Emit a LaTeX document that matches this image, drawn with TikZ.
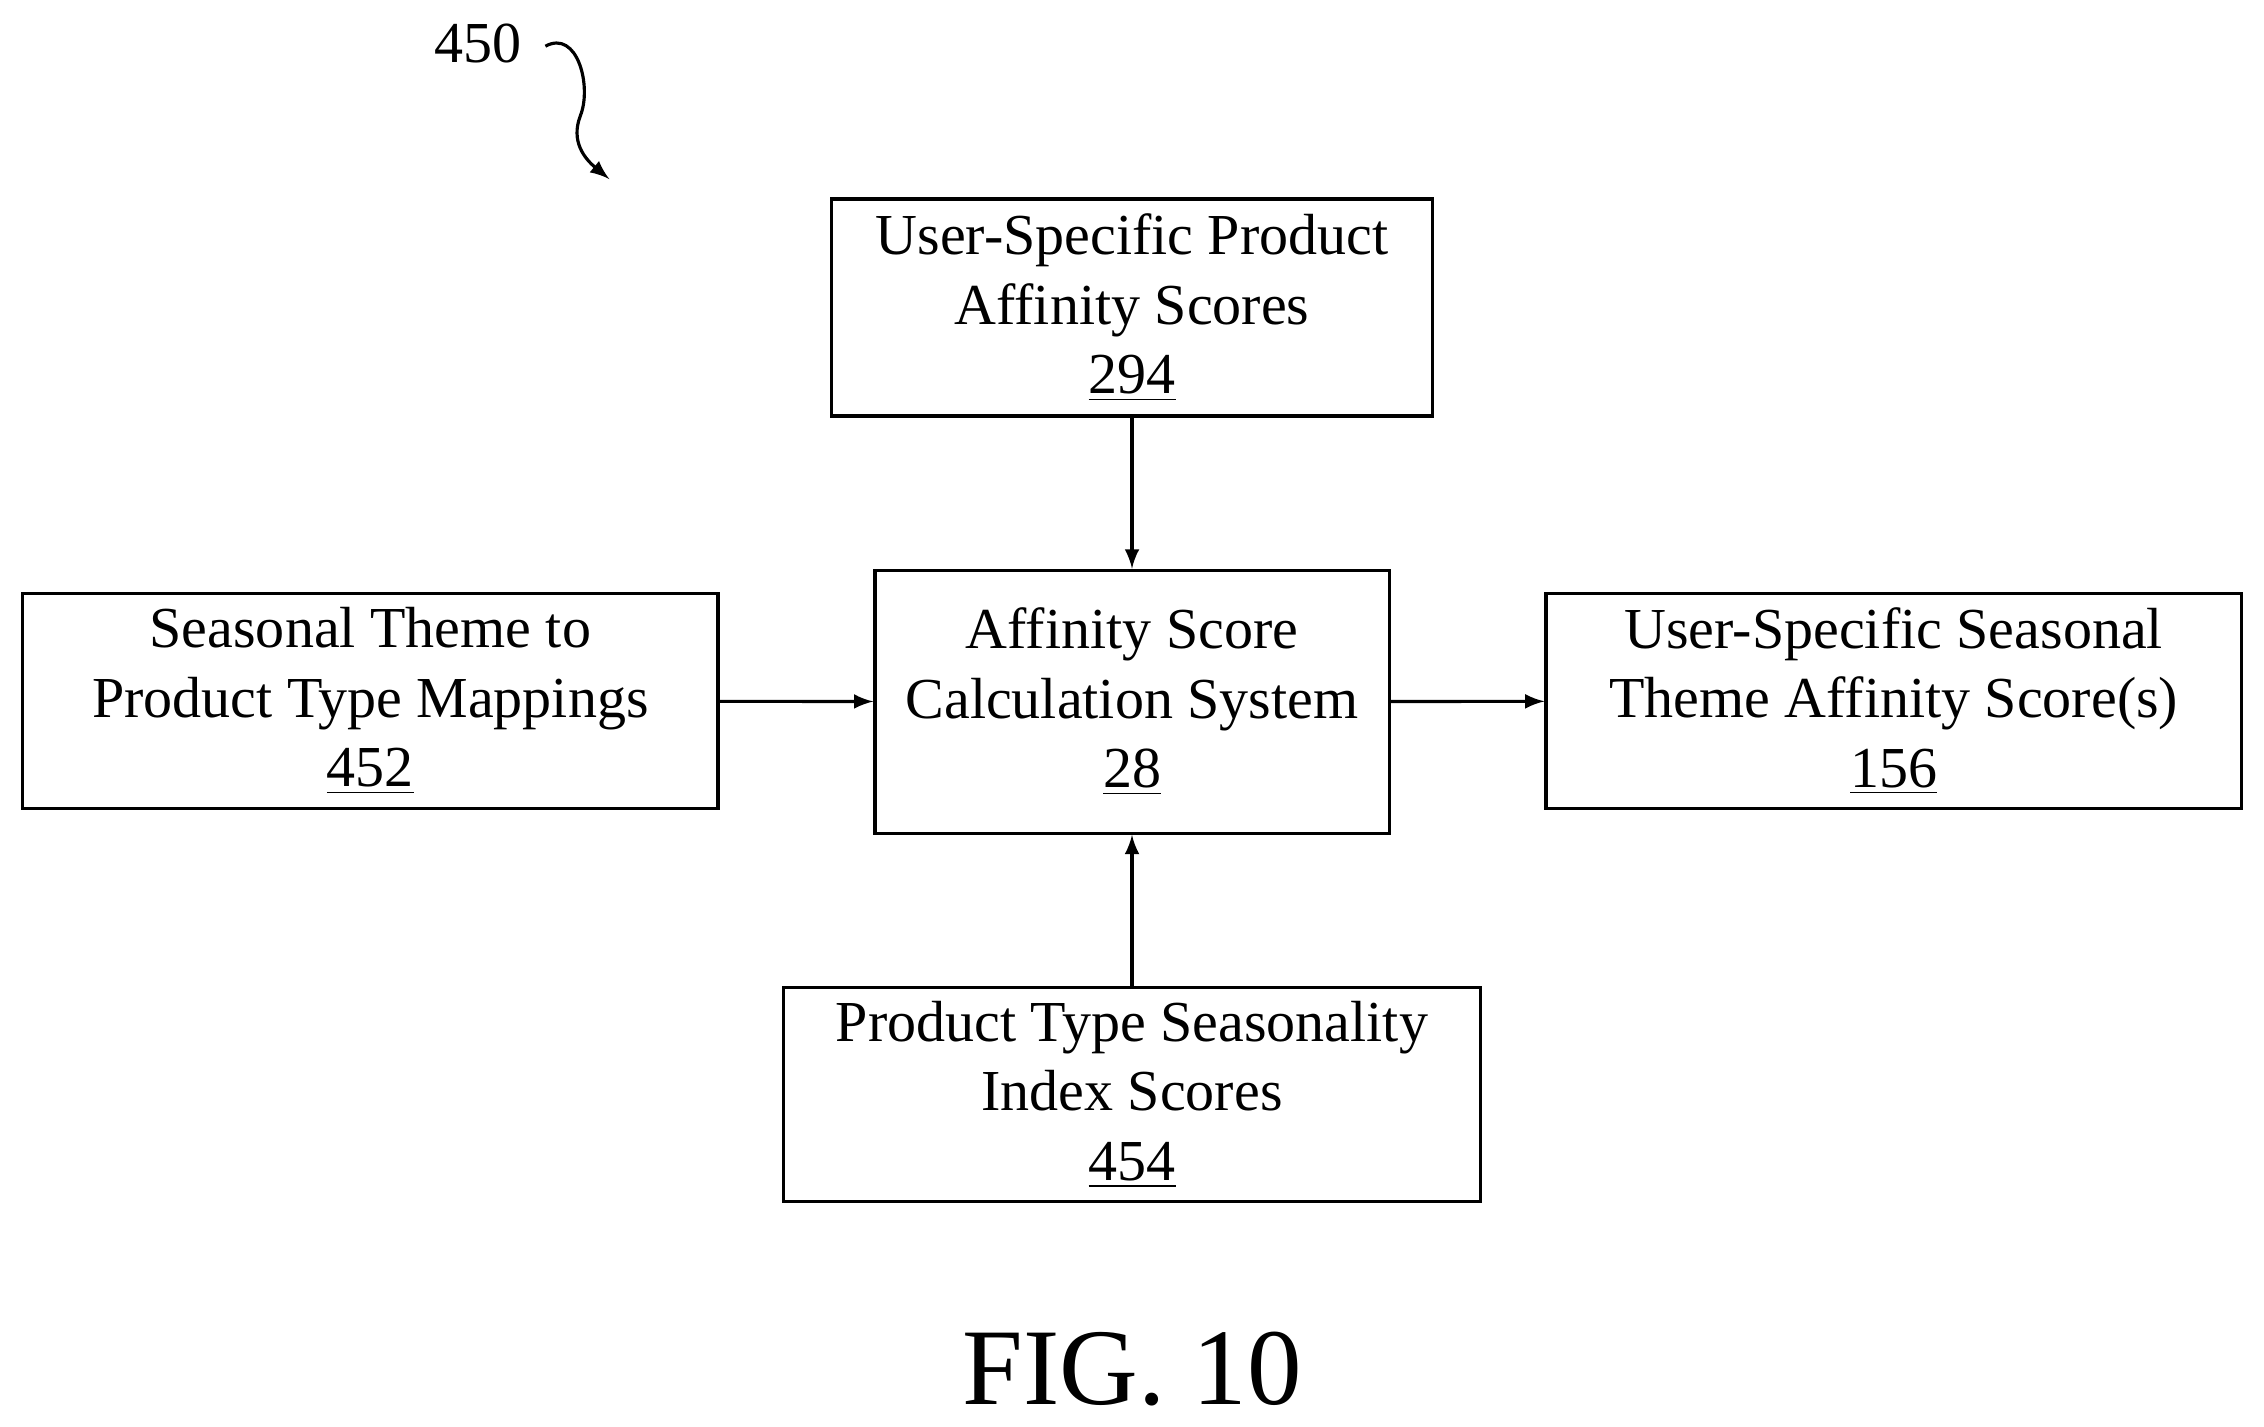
\documentclass[tikz,border=0pt]{standalone}
\usepackage{fontspec}
\setmainfont{Liberation Serif}
\usetikzlibrary{positioning}
\begin{document}
\begin{tikzpicture}[x=0.01444cm, y=-0.01444cm,
  every node/.style={font=\fontsize{16.5}{19.8}\selectfont},
  blk/.style={draw, line width=0.9pt, align=center, inner sep=0pt},
  arr/.style={->, >=latex, line width=0.9pt}]
\useasboundingbox (0,0) rectangle (1568,988);

% Blocks
\node[blk, minimum width=6.01cm, minimum height=2.17cm] (prod) at (784,213) {User-Specific Product\\Affinity Scores\\\underline{294}};
\node[blk, minimum width=5.14cm, minimum height=2.63cm] (calc) at (784,486) {Affinity Score\\Calculation System\\\underline{28}};
\node[blk, minimum width=6.95cm, minimum height=2.15cm] (map) at (256.5,485.5) {Seasonal Theme to\\Product Type Mappings\\\underline{452}};
\node[blk, minimum width=6.95cm, minimum height=2.15cm] (out) at (1311.5,485.5) {User-Specific Seasonal\\Theme Affinity Score(s)\\\underline{156}};
\node[blk, minimum width=6.96cm, minimum height=2.14cm] (idx) at (784,758) {Product Type Seasonality\\Index Scores\\\underline{454}};

% Connecting lines
\draw[arr] (prod) -- (calc);
\draw[arr] (map) -- (calc);
\draw[arr] (calc) -- (out);
\draw[arr] (idx) -- (calc);

% Labels
\node (ref) at (331,30) {450};
\coordinate (tip) at (422,124);
\draw[arr] (ref.east) ++(8,2) .. controls (400,20) and (410,60) .. (402,80) .. controls (395,98) and (405,110) .. (tip);
\node[font=\fontsize{31}{36}\selectfont] (fig) at (784,948) {FIG. 10};
\end{tikzpicture}
\end{document}
